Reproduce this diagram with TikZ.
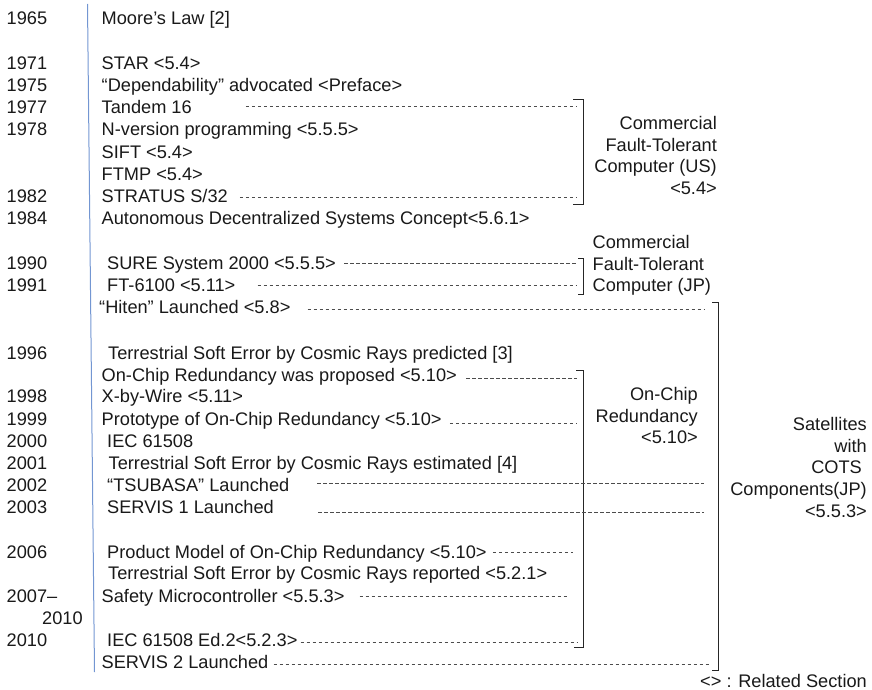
\documentclass[tikz,border=0pt]{standalone}
\usepackage{fontspec}
\setmainfont{Liberation Sans}
\begin{document}
\begin{tikzpicture}[x=1pt,y=-1pt,
 every node/.style={inner sep=0pt,font=\fontsize{18.2}{21.7}\selectfont,text=black!90},
 ev/.style={anchor=base west,text height=13pt,text depth=0pt},
 dl/.style={draw=black!70,line width=0.6pt,dash pattern=on 3.5pt off 2.5pt},
 brk/.style={draw=black!85,line width=0.9pt},
 tl/.style={draw={rgb,255:red,115;green,150;blue,210},line width=1pt}]
 \useasboundingbox (0,0) rectangle (872,690);
 % time axis
 \coordinate (tlT) at (87.5,4);
 \coordinate (tlB) at (94.5,672);
 \draw[tl] (tlT) -- (tlB);
 % years
 \node[ev] (y1965) at (6.5,24.5) {1965};
 \node[ev] (y1971) at (6.5,69.5) {1971};
 \node[ev] (y1975) at (6.5,91.5) {1975};
 \node[ev] (y1977) at (6.5,113.5) {1977};
 \node[ev] (y1978) at (6.5,135.5) {1978};
 \node[ev] (y1982) at (6.5,202.5) {1982};
 \node[ev] (y1984) at (6.5,224.5) {1984};
 \node[ev] (y1990) at (6.5,269.5) {1990};
 \node[ev] (y1991) at (6.5,291.5) {1991};
 \node[ev] (y1996) at (6.5,359.5) {1996};
 \node[ev] (y1998) at (6.5,402.5) {1998};
 \node[ev] (y1999) at (6.5,425.5) {1999};
 \node[ev] (y2000) at (6.5,447.5) {2000};
 \node[ev] (y2001) at (6.5,469.5) {2001};
 \node[ev] (y2002) at (6.5,491.5) {2002};
 \node[ev] (y2003) at (6.5,513.5) {2003};
 \node[ev] (y2006) at (6.5,558.5) {2006};
 \node[ev] (y2007) at (6.5,602.5) {2007–};
 \node[ev] (y2010a) at (42,624.5) {2010};
 \node[ev] (y2010) at (6.5,646.5) {2010};
 % events
 \node[ev] (moore) at (101.5,24.5) {Moore’s Law [2]};
 \node[ev] (star) at (101.5,69.5) {STAR <5.4>};
 \node[ev] (dep) at (101.5,91.5) {“Dependability” advocated <Preface>};
 \node[ev] (tandem) at (101.5,113.5) {Tandem 16};
 \node[ev] (nver) at (101.5,135.5) {N-version programming <5.5.5>};
 \node[ev] (sift) at (101.5,158.5) {SIFT <5.4>};
 \node[ev] (ftmp) at (101.5,180.5) {FTMP <5.4>};
 \node[ev] (stratus) at (101.5,202.5) {STRATUS S/32};
 \node[ev] (ads) at (101.5,224.5) {Autonomous Decentralized Systems Concept<5.6.1>};
 \node[ev] (sure) at (107,269.5) {SURE System 2000 <5.5.5>};
 \node[ev] (ft) at (107,291.5) {FT-6100 <5.11>};
 \node[ev] (hiten) at (99,313.5) {“Hiten” Launched <5.8>};
 \node[ev] (serA) at (108,359.5) {Terrestrial Soft Error by Cosmic Rays predicted [3]};
 \node[ev] (ocProp) at (101.5,381.5) {On-Chip Redundancy was proposed <5.10>};
 \node[ev] (xbw) at (101.5,402.5) {X-by-Wire <5.11>};
 \node[ev] (ocProto) at (101.5,425.5) {Prototype of On-Chip Redundancy <5.10>};
 \node[ev] (iec) at (107,447.5) {IEC 61508};
 \node[ev] (serB) at (108.5,469.5) {Terrestrial Soft Error by Cosmic Rays estimated [4]};
 \node[ev] (tsubasa) at (107,491.5) {“TSUBASA” Launched};
 \node[ev] (servisA) at (107,513.5) {SERVIS 1 Launched};
 \node[ev] (ocProd) at (107,558.5) {Product Model of On-Chip Redundancy <5.10>};
 \node[ev] (serC) at (108,579.5) {Terrestrial Soft Error by Cosmic Rays reported <5.2.1>};
 \node[ev] (safety) at (101.5,602.5) {Safety Microcontroller <5.5.3>};
 \node[ev] (iecB) at (107,646.5) {IEC 61508 Ed.2<5.2.3>};
 \node[ev] (servisB) at (101.5,668.5) {SERVIS 2 Launched};
 % brackets
 \coordinate (usT) at (583,99);
 \coordinate (usB) at (583,204);
 \coordinate (jpT) at (583,258);
 \coordinate (jpB) at (583,294);
 \coordinate (ocT) at (583,370);
 \coordinate (ocB) at (583,647);
 \coordinate (satT) at (718,302);
 \coordinate (satB) at (718,670);
 \draw[brk] ([xshift=-10pt]usT) -- (usT) -- (usB) -- ([xshift=-10pt]usB);
 \draw[brk] ([xshift=-5pt]jpT) -- (jpT) -- (jpB) -- ([xshift=-5pt]jpB);
 \draw[brk] ([xshift=-7pt]ocT) -- (ocT) -- (ocB) -- ([xshift=-9pt]ocB);
 \draw[brk] ([xshift=-6pt]satT) -- (satT) -- (satB) -- ([xshift=-6pt]satB);
 % dashed leaders
 \coordinate (usR) at (577,0);
 \coordinate (jpR) at (577,0);
 \coordinate (ocR) at (577,0);
 \coordinate (satR) at (704,0);
 \draw[dl] ([xshift=54pt,yshift=1pt]tandem.east) -- ([yshift=1pt]tandem.east -| usR);
 \draw[dl] ([xshift=12pt,yshift=-1pt]stratus.east) -- ([yshift=-1pt]stratus.east -| usR);
 \draw[dl] ([xshift=8pt]sure.east) -- (sure.east -| jpR);
 \draw[dl] ([xshift=22pt]ft.east) -- (ft.east -| jpR);
 \draw[dl] ([xshift=17pt,yshift=-2pt]hiten.east) -- ([xshift=1pt,yshift=-2pt]hiten.east -| satR);
 \draw[dl] ([xshift=9pt,yshift=-3pt]ocProp.east) -- ([yshift=-3pt]ocProp.east -| ocR);
 \draw[dl] ([xshift=8pt,yshift=-4pt]ocProto.east) -- ([yshift=-4pt]ocProto.east -| ocR);
 \draw[dl] ([xshift=28pt,yshift=2pt]tsubasa.east) -- ([yshift=2pt]tsubasa.east -| satR);
 \draw[dl] ([xshift=44pt,yshift=-5pt]servisA.east) -- ([yshift=-5pt]servisA.east -| satR);
 \draw[dl] ([xshift=6pt]ocProd.east) -- ([xshift=-4pt]ocProd.east -| ocR);
 \draw[dl] ([xshift=15pt]safety.east) -- ([xshift=-9pt]safety.east -| ocR);
 \draw[dl] ([xshift=3pt,yshift=-2pt]iecB.east) -- ([yshift=-2pt]iecB.east -| ocR);
 \draw[dl] ([xshift=5pt,yshift=-2pt]servisB.east) -- ([xshift=6pt,yshift=-2pt]servisB.east -| satR);
 % group labels
 \node[anchor=north east,align=right] (usLab) at (717,116.2) {Commercial\\Fault-Tolerant\\Computer (US)\\<5.4>};
 \node[anchor=north west,align=left] (jpLab) at (592.5,235.2) {Commercial\\Fault-Tolerant\\Computer (JP)};
 \node[anchor=north east,align=right] (ocLab) at (698,387.2) {On-Chip\\Redundancy\\<5.10>};
 \node[anchor=north east,align=right] (satLab) at (867,417.2) {Satellites\\with\\COTS\kern5pt\\Components(JP)\\<5.5.3>};
 \node[anchor=base east] (note) at (867,687.5) {<> : Related Section};
\end{tikzpicture}
\end{document}
